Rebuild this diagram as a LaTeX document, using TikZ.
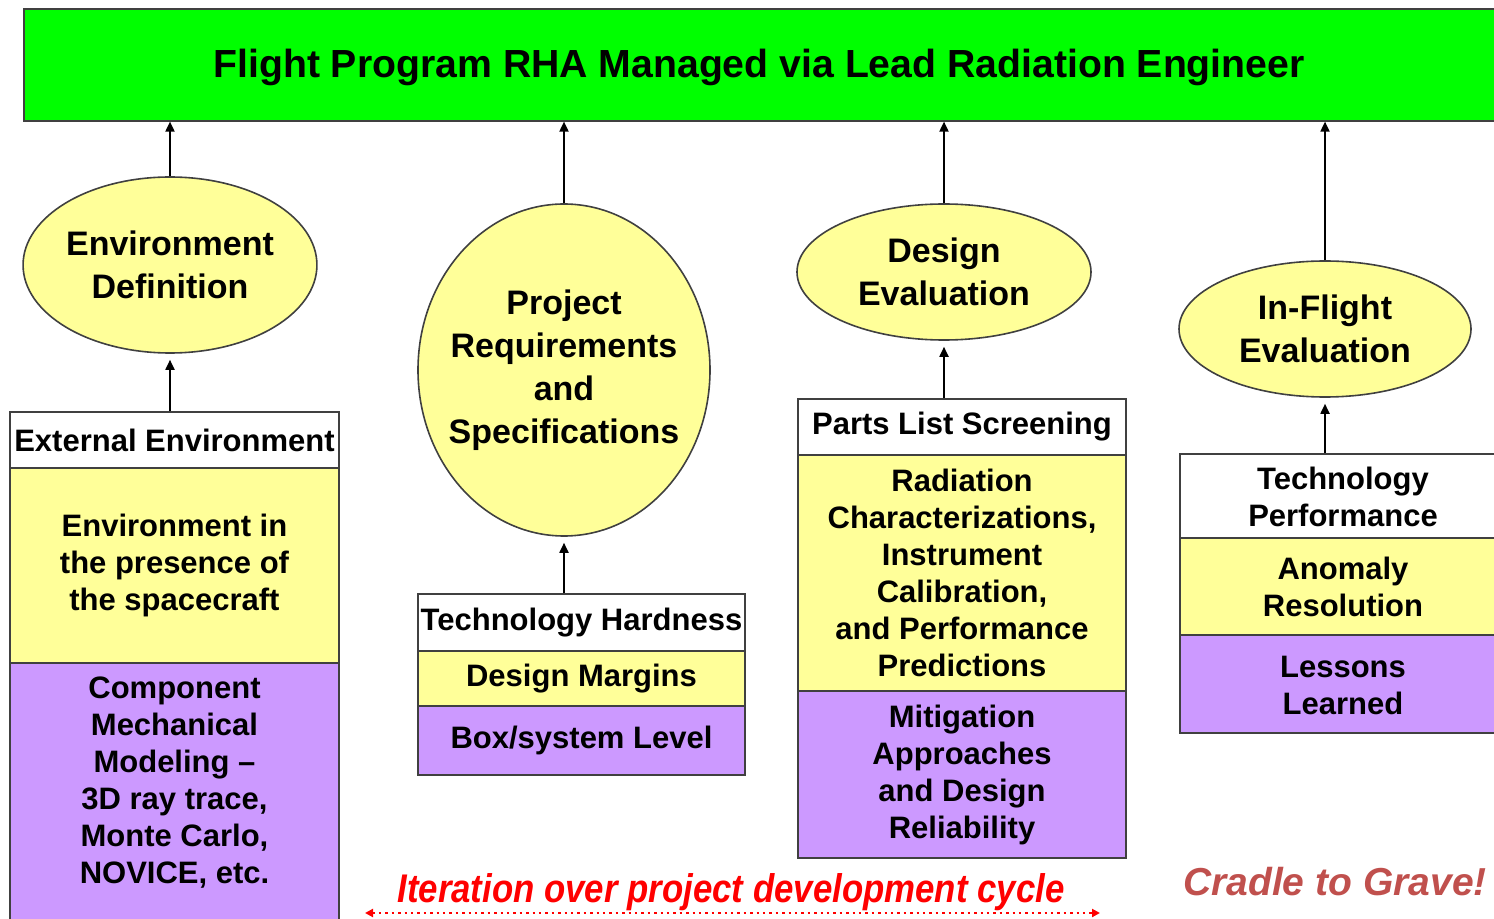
\documentclass[tikz,border=0pt]{standalone}
\usepackage{fontspec}
\usepackage{graphicx}
\setmainfont{Liberation Sans}
\usetikzlibrary{shapes.geometric,arrows.meta}
\definecolor{barg}{HTML}{00FF00}
\definecolor{ylw}{HTML}{FFFF99}
\definecolor{prp}{HTML}{CC99FF}
\definecolor{edgec}{HTML}{404040}
\definecolor{cradle}{HTML}{C0504D}
\begin{document}
\begin{tikzpicture}[x=0.5pt,y=-0.5pt,
  box/.style={draw=edgec,line width=0.8pt,rectangle,inner sep=0pt,align=center,
    font=\fontsize{15.5}{18.5}\selectfont\bfseries},
  txt/.style={inner sep=0pt,align=center,font=\fontsize{15.5}{18.5}\selectfont\bfseries},
  ell/.style={ellipse,draw=edgec,line width=0.8pt,fill=ylw,inner sep=0pt,align=center,
    font=\fontsize{17}{21.5}\selectfont\bfseries},
  arr/.style={-{Triangle[length=5pt,width=4.5pt]},line width=0.9pt,black}]
\useasboundingbox (0,0) rectangle (1494,919);
\clip (0,0) rectangle (1494,919);

% top bar
\node[box,fill=barg,minimum width=740pt,minimum height=56pt,anchor=north west] (bar) at (23,8) {};
\node[inner sep=0pt,font=\fontsize{19.6}{22}\selectfont\bfseries] (title) at (759,67) {Flight Program RHA Managed via Lead Radiation Engineer};

% ellipses
\node[ell,minimum width=146pt,minimum height=88pt] (e1) at (170,265) {Environment\\Definition};
\node[ell,inner sep=-8pt,minimum width=146pt,minimum height=166pt] (e2) at (564,370) {Project\\Requirements\\and\\Specifications};
\node[ell,minimum width=147pt,minimum height=68pt] (e3) at (944,272) {Design\\Evaluation};
\node[ell,minimum width=146pt,minimum height=68pt] (e4) at (1325,329) {In-Flight\\Evaluation};

% box 1
\node[box,fill=white,minimum width=164.5pt,minimum height=28pt] (b1a) at (174.5,440) {External Environment};
\node[box,fill=ylw,minimum width=164.5pt,minimum height=97.5pt] (b1b) at (174.5,565.5) {Environment in\\the presence of\\the spacecraft};
\node[box,fill=prp,minimum width=164.5pt,minimum height=133.5pt] (b1c) at (174.5,796.5) {};
\node[txt] (b1t) at (174.5,783) {Component\\Mechanical\\Modeling --\\3D ray trace,\\Monte Carlo,\\NOVICE, etc.};

% box 2
\node[box,fill=white,minimum width=163.5pt,minimum height=28.5pt] (b2a) at (581.5,622.5) {Technology Hardness};
\node[box,fill=ylw,minimum width=163.5pt,minimum height=27.5pt] (b2b) at (581.5,678.5) {Design Margins};
\node[box,fill=prp,minimum width=163.5pt,minimum height=34.5pt] (b2c) at (581.5,740.5) {Box/system Level};

% box 3
\node[box,fill=white,minimum width=164pt,minimum height=28pt] (b3a) at (962,427) {Parts List Screening};
\node[box,fill=ylw,minimum width=164pt,minimum height=118pt] (b3b) at (962,573) {Radiation\\Characterizations,\\Instrument\\Calibration,\\and Performance\\Predictions};
\node[box,fill=prp,minimum width=164pt,minimum height=83.5pt] (b3c) at (962,774.5) {Mitigation\\Approaches\\and Design\\Reliability};

% box 4
\node[box,fill=white,minimum width=165.5pt,minimum height=42pt,anchor=west] (b4a) at (1179,496) {};
\node[txt] (b4at) at (1343,497) {Technology\\Performance};
\node[box,fill=ylw,minimum width=165.5pt,minimum height=48.5pt,anchor=west] (b4b) at (1179,586.5) {};
\node[txt] (b4bt) at (1343,587) {Anomaly\\Resolution};
\node[box,fill=prp,minimum width=165.5pt,minimum height=49pt,anchor=west] (b4c) at (1179,684) {};
\node[txt] (b4ct) at (1343,685) {Lessons\\Learned};

% arrows to bar
\draw[arr] (e1.north) -- (e1.north |- bar.south);
\draw[arr] (e2.north) -- (e2.north |- bar.south);
\draw[arr] (e3.north) -- (e3.north |- bar.south);
\draw[arr] (e4.north) -- (e4.north |- bar.south);

% arrows from boxes to ellipses
\draw[arr,shorten >=3pt] (b1a.north -| e1.south) -- (e1.south);
\draw[arr,shorten >=3pt] (b2a.north -| e2.south) -- (e2.south);
\draw[arr,shorten >=3pt] (b3a.north -| e3.south) -- (e3.south);
\draw[arr,shorten >=3pt] (b4a.north -| e4.south) -- (e4.south);

% iteration
\node[inner sep=0pt,text=red,font=\fontsize{20}{22}\selectfont\bfseries\itshape] (iter) at (731,892) {\scalebox{0.87}[1]{Iteration over project development cycle}};
\coordinate (itL) at (365,913);
\coordinate (itR) at (1100,913);
\draw[red,line width=1.2pt,dotted,{Triangle[length=4pt,width=4pt]}-{Triangle[length=4pt,width=4pt]}] (itL) -- (itR);

\node[inner sep=0pt,text=cradle,font=\fontsize{19.5}{22}\selectfont\bfseries\itshape] (cradle) at (1335,882) {Cradle to Grave!};
\end{tikzpicture}
\end{document}
